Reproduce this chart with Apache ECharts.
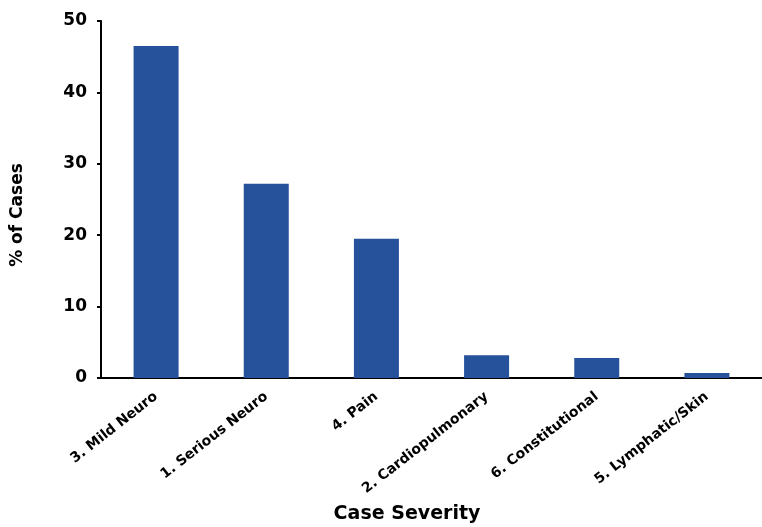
<!DOCTYPE html>
<html><head><meta charset="utf-8">
<script src="https://cdn.jsdelivr.net/npm/echarts@6/dist/echarts.min.js"></script>
<style>html,body{margin:0;padding:0;background:#fff}#c{width:762px;height:527px}</style>
</head><body><div id="c"></div>
<script>
const categories = ['3. Mild Neuro','1. Serious Neuro','4. Pain','2. Cardiopulmonary','6. Constitutional','5. Lymphatic/Skin'];
const values = [46.5, 27.2, 19.5, 3.2, 2.8, 0.7];
const yTicks = [0, 10, 20, 30, 40, 50];
const font = '"DejaVu Sans", "Liberation Sans", Arial, sans-serif';
const chart = echarts.init(document.getElementById('c'), null, {renderer: 'canvas'});
chart.setOption({
  animation: false,
  grid: {left: 101, top: 21, width: 667, height: 357, containLabel: false},
  xAxis: {
    type: 'category', data: categories,
    axisLine: {lineStyle: {color: '#000', width: 2}},
    axisTick: {show: false},
    axisLabel: {rotate: 38, color: '#000', fontWeight: 'bold', fontSize: 14, fontFamily: font, margin: 17, interval: 0}
  },
  yAxis: {
    type: 'value', min: 0, max: 50, interval: 10,
    axisLine: {show: true, lineStyle: {color: '#000', width: 2}},
    axisTick: {show: true, length: 4, lineStyle: {color: '#000', width: 2}},
    splitLine: {show: false},
    axisLabel: {color: '#000', fontWeight: 'bold', fontSize: 17, fontFamily: font, margin: 14,
      formatter: v => yTicks.includes(v) ? String(v) : ''}
  },
  graphic: [
    {type: 'text', x: 407, y: 514,
      style: {text: 'Case Severity', fill: '#000', font: 'bold 19px ' + font, textAlign: 'center', textVerticalAlign: 'middle'}},
    {type: 'text', x: 18, y: 215, rotation: Math.PI / 2,
      style: {text: '% of Cases', fill: '#000', font: 'bold 17px ' + font, textAlign: 'center', textVerticalAlign: 'middle'}}
  ],
  series: [{type: 'bar', data: values, barWidth: 45, itemStyle: {color: '#26519b'}}]
});
</script></body></html>
